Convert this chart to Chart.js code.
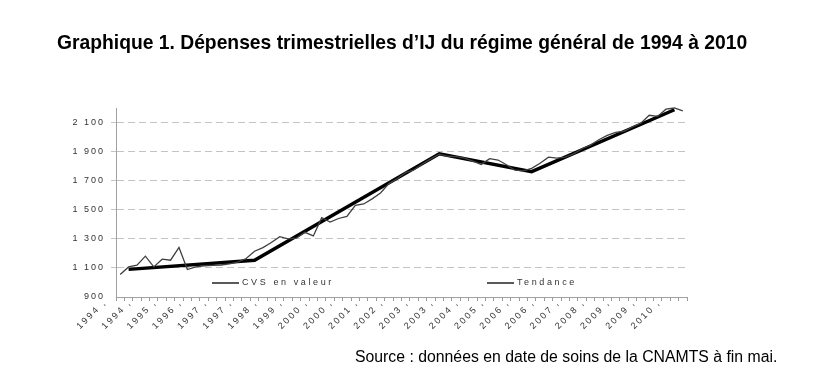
<!DOCTYPE html>
<html><head><meta charset="utf-8">
<script src="https://cdn.jsdelivr.net/npm/chart.js@4"></script>
<style>
html,body{margin:0;padding:0;background:#fff;}
#wrap{position:relative;width:834px;height:385px;overflow:hidden;}
#title{position:absolute;left:57px;top:32px;font:bold 19.3px Arial,"Liberation Sans",sans-serif;color:#000;white-space:nowrap;}
#source{position:absolute;left:355px;top:348px;font:15.8px Arial,"Liberation Sans",sans-serif;color:#000;white-space:nowrap;}
canvas{position:absolute;left:0;top:0;}
</style></head>
<body><div id="wrap"><canvas id="c" width="834" height="385"></canvas>
<div id="title">Graphique 1. Dépenses trimestrielles d’IJ du régime général de 1994 à 2010</div>
<div id="source">Source : données en date de soins de la CNAMTS à fin mai.</div></div>
<script>
const quarters = [
"1994 T1","1994 T2","1994 T3","1994 T4","1995 T1","1995 T2","1995 T3","1995 T4",
"1996 T1","1996 T2","1996 T3","1996 T4","1997 T1","1997 T2","1997 T3","1997 T4",
"1998 T1","1998 T2","1998 T3","1998 T4","1999 T1","1999 T2","1999 T3","1999 T4",
"2000 T1","2000 T2","2000 T3","2000 T4","2001 T1","2001 T2","2001 T3","2001 T4",
"2002 T1","2002 T2","2002 T3","2002 T4","2003 T1","2003 T2","2003 T3","2003 T4",
"2004 T1","2004 T2","2004 T3","2004 T4","2005 T1","2005 T2","2005 T3","2005 T4",
"2006 T1","2006 T2","2006 T3","2006 T4","2007 T1","2007 T2","2007 T3","2007 T4",
"2008 T1","2008 T2","2008 T3","2008 T4","2009 T1","2009 T2","2009 T3","2009 T4",
"2010 T1","2010 T2","2010 T3","2010 T4"];
const tickLabels = ["1994 ,","1994 ,","1995 ,","1996 ,","1997 ,","1997 ,","1998 ,","1999 ,",
"2000 ,","2000 ,","2001 ,","2002 ,","2003 ,","2003 ,","2004 ,","2005 ,","2006 ,","2006 ,",
"2007 ,","2008 ,","2009 ,","2009 ,","2010 ,"];
const yTicks = [900,1100,1300,1500,1700,1900,2100];
const cvsValues = [
1055,1107,1119,1181,1107,1160,1153,1241,1089,1107,
1115,1118,1120,1128,1140,1165,1215,1240,1275,1315,
1300,1305,1345,1320,1445,1415,1440,1455,1530,1540,
1575,1615,1680,1715,1755,1775,1815,1850,1882,1868,
1865,1855,1835,1812,1852,1842,1810,1772,1768,1785,
1820,1862,1855,1862,1885,1920,1945,1982,2012,2033,
2040,2070,2095,2150,2142,2192,2200,2180];
const trendQuarters = ["1994 T2","1998 T1","2003 T3","2006 T2","2010 T3"];
const trendValues = [1090,1153,1885,1762,2188];

const FONT = 'Arial, "Liberation Sans", sans-serif';

const spacingPlugin = {
  id: 'spacing',
  afterUpdate(chart) {
    const wrap = (scale, sp) => {
      if (!scale || scale._wrapped) return;
      const orig = scale.drawLabels;
      scale.drawLabels = function (area) {
        this.ctx.save(); this.ctx.letterSpacing = sp; orig.call(this, area); this.ctx.restore();
      };
      scale._wrapped = true;
    };
    wrap(chart.scales.x, '2.2px');
    wrap(chart.scales.y, '2px');
  }
};

const legendPlugin = {
  id: 'customLegend',
  afterDraw(chart) {
    const {ctx, chartArea} = chart;
    const y = chartArea.bottom - 14;
    const items = [
      {x: chartArea.left + 96, label: chart.data.datasets[0].label},
      {x: chartArea.left + 371, label: chart.data.datasets[1].label}
    ];
    ctx.save();
    ctx.font = '9px ' + FONT;
    ctx.letterSpacing = '2.6px';
    ctx.textBaseline = 'middle';
    ctx.fillStyle = '#333';
    items.forEach(it => {
      ctx.strokeStyle = '#5a5a5a';
      ctx.lineWidth = 2;
      ctx.beginPath(); ctx.moveTo(it.x, y); ctx.lineTo(it.x + 27, y); ctx.stroke();
      ctx.fillText(it.label, it.x + 30, y);
    });
    ctx.restore();
  }
};

new Chart(document.getElementById('c'), {
  type: 'line',
  data: {
    labels: quarters,
    datasets: [
      {label: 'CVS en valeur', data: cvsValues, borderColor: '#404040', borderWidth: 1.3,
       pointRadius: 0, tension: 0, clip: false},
      {label: 'Tendance', data: trendQuarters.map((q, i) => ({x: q, y: trendValues[i]})),
       borderColor: '#000', borderWidth: 3.5, pointRadius: 0, tension: 0, clip: false}
    ]
  },
  options: {
    responsive: false,
    devicePixelRatio: 1,
    animation: false,
    layout: {padding: {left: 0, top: 108, right: 147, bottom: 0}},
    plugins: {legend: {display: false}, title: {display: false}, tooltip: {enabled: false}},
    scales: {
      x: {
        type: 'category',
        offset: true,
        afterFit(s) { s.height = 88; },
        grid: {display: true, drawOnChartArea: false, drawTicks: true, tickLength: 4, offset: true, color: '#9a9a9a'},
        border: {display: true, color: '#a0a0a0', width: 1},
        ticks: {
          autoSkip: false, minRotation: 45, maxRotation: 45, padding: -4, labelOffset: -15,
          font: {family: FONT, size: 9}, color: '#333',
          callback: (v, i) => (i % 3 === 0 ? tickLabels[i / 3] : '')
        }
      },
      y: {
        min: 900, max: 2200,
        afterFit(s) { s.width = 116; },
        afterBuildTicks(s) { s.ticks = yTicks.map(v => ({value: v})); },
        grid: {
          color: c => (c.tick && c.tick.value === 900 ? 'rgba(0,0,0,0)' : '#c4c4c4'),
          tickLength: 5, lineWidth: 1
        },
        border: {display: true, color: '#a0a0a0', width: 1, dash: [7, 4]},
        ticks: {
          padding: 6, font: {family: FONT, size: 9}, color: '#333',
          callback: v => (v >= 1000 ? Math.floor(v / 1000) + ' ' + String(v % 1000).padStart(3, '0') : String(v))
        }
      }
    }
  },
  plugins: [spacingPlugin, legendPlugin]
});
</script>
</body></html>
